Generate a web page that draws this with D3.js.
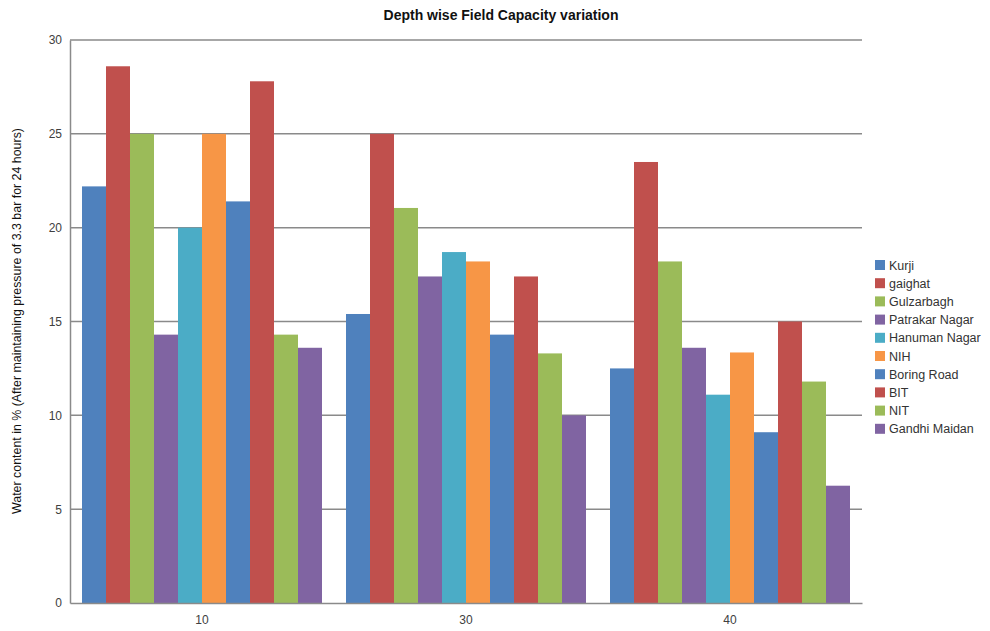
<!DOCTYPE html>
<html><head><meta charset="utf-8">
<script src="https://cdn.jsdelivr.net/npm/d3@7"></script>
<style>body{margin:0;background:#fff;} svg{display:block;font-family:"Open Sans","Liberation Sans",sans-serif;}</style>
</head><body>
<svg id="c" width="990" height="631"></svg>
<script>
const categories = ["10", "30", "40"];
const seriesNames = ["Kurji","gaighat","Gulzarbagh","Patrakar Nagar","Hanuman Nagar","NIH","Boring Road","BIT","NIT","Gandhi Maidan"];
const kurji = [22.2, 15.4, 12.5];
const gaighat = [28.6, 25.0, 23.5];
const gulzarbagh = [25.0, 21.05, 18.2];
const patrakarNagar = [14.3, 17.4, 13.6];
const hanumanNagar = [20.0, 18.7, 11.1];
const nih = [25.0, 18.2, 13.35];
const boringRoad = [21.4, 14.3, 9.1];
const bit = [27.8, 17.4, 15.0];
const nit = [14.3, 13.3, 11.8];
const gandhiMaidan = [13.6, 10.0, 6.25];
const yTicks = [0, 5, 10, 15, 20, 25, 30];
const colors = ["#4F81BD","#C0504D","#9BBB59","#8064A2","#4BACC6","#F79646","#4F81BD","#C0504D","#9BBB59","#8064A2"];

const seriesValues = [kurji, gaighat, gulzarbagh, patrakarNagar, hanumanNagar, nih, boringRoad, bit, nit, gandhiMaidan];
const series = seriesNames.map((n,i)=>({name:n, values:seriesValues[i], color:colors[i]}));

const svg = d3.select("#c");
const L = 70, R = 862, T = 40, B = 603;

const x0 = d3.scaleBand().domain(categories).range([L, R]).paddingInner(1/11).paddingOuter(1/22);
const x1 = d3.scaleBand().domain(seriesNames).range([0, x0.bandwidth()]);
const y = d3.scaleLinear().domain([0, 30]).range([B, T]);

// gridlines
svg.append("g").selectAll("line").data(yTicks.filter(d=>d>0)).join("line")
  .attr("x1", L).attr("x2", R).attr("y1", d=>y(d)).attr("y2", d=>y(d))
  .attr("stroke", "#8a8a8a").attr("stroke-width", 1.5);

// bars
const g = svg.append("g");
series.forEach(s=>{
  g.append("g").selectAll("rect").data(categories.map((c,i)=>({c, v:s.values[i]}))).join("rect")
    .attr("x", d=>x0(d.c)+x1(s.name)).attr("width", x1.bandwidth())
    .attr("y", d=>y(d.v)).attr("height", d=>y(0)-y(d.v))
    .attr("fill", s.color);
});

// y axis
const yAxis = d3.axisLeft(y).tickValues(yTicks).tickSize(0).tickPadding(8);
const ya = svg.append("g").attr("transform", `translate(${L},0)`).call(yAxis);
ya.select(".domain").attr("stroke", "#8a8a8a").attr("stroke-width", 1.5);
ya.selectAll("text").attr("font-size", 12).attr("fill", "#404040").attr("font-family", "'Liberation Sans',sans-serif");

// x axis
const xAxis = d3.axisBottom(x0).tickSize(0).tickPadding(12);
const xa = svg.append("g").attr("transform", `translate(0,${B})`).call(xAxis);
xa.select(".domain").attr("stroke", "#8a8a8a").attr("stroke-width", 1.5);
xa.selectAll("text").attr("font-size", 12).attr("fill", "#404040").attr("font-family", "'Liberation Sans',sans-serif");

// title
svg.append("text").attr("x", 501).attr("y", 20).attr("text-anchor", "middle")
  .attr("font-size", 14).attr("font-weight", "bold").attr("fill", "#111")
  .attr("font-family", "'Liberation Sans',sans-serif")
  .text("Depth wise Field Capacity variation");

// y label
svg.append("text").attr("transform", `translate(21,${(128+514)/2}) rotate(-90)`).attr("text-anchor", "middle")
  .attr("font-size", 12.4).attr("fill", "#111").attr("font-family", "'Liberation Sans',sans-serif")
  .text("Water content in % (After maintaining pressure of 3.3 bar for 24 hours)");

// legend
const lg = svg.append("g").attr("transform", "translate(875,265)");
const items = lg.selectAll("g").data(series).join("g").attr("transform", (d,i)=>`translate(0,${i*18.2})`);
items.append("rect").attr("x", 0).attr("y", -5).attr("width", 10).attr("height", 10).attr("fill", d=>d.color);
items.append("text").attr("x", 14).attr("y", 4.5).attr("font-size", 12.5).attr("fill", "#333")
  .attr("font-family", "'Liberation Sans',sans-serif").text(d=>d.name);
</script>
</body></html>
